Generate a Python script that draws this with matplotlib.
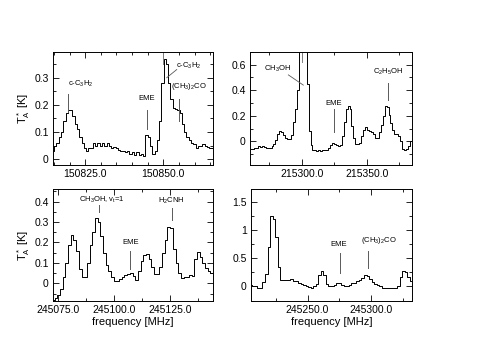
# ─────────────────────────────────────────
# IMPORTS
# ─────────────────────────────────────────
import matplotlib
matplotlib.use("Agg")
import matplotlib.pyplot as plt
import numpy as np
from matplotlib.ticker import MultipleLocator, FuncFormatter

plt.rcParams["font.family"] = ["Liberation Sans", "DejaVu Sans"]
plt.rcParams["mathtext.default"] = "regular"

# ─────────────────────────────────────────
# DATA
# ─────────────────────────────────────────
# panel 1: 150.8 GHz band, channel grid start / width
p1_f0, p1_df = 150814.7, 0.73
p1_ta = [0.03, 0.05, 0.06, 0.08, 0.10, 0.14, 0.17, 0.18, 0.18, 0.16,
         0.13, 0.11, 0.08, 0.06, 0.04, 0.03, 0.04, 0.04, 0.06, 0.05,
         0.06, 0.05, 0.06, 0.05, 0.06, 0.05, 0.04, 0.045, 0.04, 0.035,
         0.03, 0.03, 0.025, 0.03, 0.02, 0.025, 0.015, 0.025, 0.015, 0.02,
         0.01, 0.09, 0.08, 0.05, 0.02, 0.03, 0.07, 0.14, 0.28, 0.37,
         0.35, 0.28, 0.22, 0.19, 0.185, 0.18, 0.17, 0.13, 0.10, 0.08,
         0.07, 0.06, 0.055, 0.04, 0.05, 0.05, 0.055, 0.05, 0.045, 0.04,
         0.04]

# panel 2: 215.3 GHz band
p2_f0, p2_df = 215261.0, 1.5
p2_ta = [-0.06, -0.06, -0.05, -0.05, -0.04, -0.045, -0.04, -0.045, -0.05, -0.05,
         -0.05, -0.04, -0.02, 0.01, 0.06, 0.08, 0.07, 0.05, 0.03, 0.02,
         0.02, 0.05, 0.15, 0.25, 0.40, 0.75, 1.3, 1.6, 1.2, 0.45,
         0.08, -0.03, -0.07, -0.07, -0.075, -0.07, -0.075, -0.07, -0.07, -0.065,
         -0.05, -0.03, -0.01, -0.02, -0.03, -0.04, -0.03, 0.04, 0.15, 0.25,
         0.28, 0.25, 0.12, 0.03, -0.02, -0.02, -0.01, 0.04, 0.09, 0.11,
         0.09, 0.08, 0.07, 0.06, 0.03, 0.03, 0.07, 0.13, 0.20, 0.28,
         0.27, 0.21, 0.14, 0.09, 0.06, 0.06, 0.04, 0.0, -0.06, -0.07,
         -0.06, -0.04, 0.0]

# panel 3: 245.1 GHz band
p3_f0, p3_df = 245072.75, 1.2
p3_ta = [-0.08, -0.07, -0.055, -0.025, 0.03, 0.10, 0.19, 0.235, 0.21, 0.16,
         0.07, 0.03, 0.03, 0.10, 0.19, 0.25, 0.32, 0.30, 0.23, 0.15,
         0.09, 0.06, 0.03, 0.013, 0.01, 0.02, 0.03, 0.04, 0.045, 0.05,
         0.035, 0.015, 0.06, 0.11, 0.14, 0.145, 0.12, 0.08, 0.045, 0.045,
         0.08, 0.15, 0.21, 0.275, 0.27, 0.17, 0.10, 0.05, 0.025, 0.03,
         0.03, 0.04, 0.035, 0.12, 0.155, 0.13, 0.10, 0.075, 0.06, 0.05]

# panel 4: 245.27 GHz band
p4_f0, p4_df = 245205.5, 2.0
p4_ta = [0.02, 0.01, 0.0, -0.02, -0.035, 0.08, 0.22, 0.70, 1.25, 1.20,
         0.88, 0.35, 0.12, 0.12, 0.11, 0.12, 0.13, 0.10, 0.09, 0.06,
         0.05, 0.02, 0.0, -0.01, -0.02, 0.0, 0.04, 0.20, 0.28, 0.21,
         0.04, 0.01, 0.015, 0.03, 0.07, 0.07, 0.03, 0.0, 0.01, 0.03,
         0.06, 0.07, 0.09, 0.12, 0.15, 0.20, 0.18, 0.13, 0.08, 0.04,
         0.02, 0.0, -0.02, -0.03, -0.03, -0.025, -0.02, -0.02, 0.01, 0.17,
         0.28, 0.25, 0.17, 0.10]

# line identifications: (label, text x, text y, mark x, mark y0, mark y1)
p1_lines = [("c-C$_3$H$_2$", 150823.4, 0.277, 150819.6, 0.175, 0.24),
            ("EME", 150844.7, 0.224, 150844.7, 0.11, 0.18),
            ("(CH$_3$)$_2$CO", 150858.1, 0.269, 150855.0, 0.14, 0.22)]
p2_lines = [("EME", 215324.3, 0.30, 215324.8, 0.07, 0.25),
            ("C$_2$H$_5$OH", 215366.6, 0.545, 215366.1, 0.32, 0.46)]
p3_lines = [("CH$_3$OH, v$_t$=1", 245094.3, 0.41, 245093.2, 0.35, 0.385),
            ("EME", 245107.4, 0.198, 245107.2, 0.073, 0.158),
            ("H$_2$CNH", 245125.6, 0.402, 245125.6, 0.31, 0.37)]
p4_lines = [("EME", 245274.3, 0.75, 245275.6, 0.235, 0.6),
            ("(CH$_3$)$_2$CO", 245306.5, 0.82, 245297.4, 0.32, 0.63)]


# ─────────────────────────────────────────
# HELPERS
# ─────────────────────────────────────────
def style_axis(ax, xlim, ylim, xmaj, xmin, ymaj, ymin):
    ax.set_xlim(*xlim)
    ax.set_ylim(*ylim)
    ax.xaxis.set_major_locator(MultipleLocator(xmaj))
    ax.xaxis.set_minor_locator(MultipleLocator(xmin))
    ax.yaxis.set_major_locator(MultipleLocator(ymaj))
    ax.yaxis.set_minor_locator(MultipleLocator(ymin))
    ax.xaxis.set_major_formatter(FuncFormatter(lambda v, p: f"{v:.1f}"))
    ax.yaxis.set_major_formatter(FuncFormatter(lambda v, p: f"{v:g}"))
    ax.tick_params(which="both", direction="in", top=True, right=True,
                   labelsize=7.5, width=0.6, pad=3)
    ax.tick_params(which="major", length=4)
    ax.tick_params(which="minor", length=2)
    for s in ax.spines.values():
        s.set_linewidth(0.7)


def draw_spectrum(ax, f0, df, ta, lines):
    freq = f0 + df * np.arange(len(ta))
    ax.step(freq, ta, where="mid", color="black", lw=0.7)
    for label, tx, ty, mx, y0, y1 in lines:
        ax.text(tx, ty, label, fontsize=5.5, ha="center", va="center")
        ax.plot([mx, mx], [y0, y1], color="0.35", lw=0.7)


# ─────────────────────────────────────────
# FIGURE
# ─────────────────────────────────────────
fig = plt.figure(figsize=(5.0, 3.53), dpi=100)
ax1 = fig.add_axes([0.106, 0.533, 0.320, 0.320])
ax2 = fig.add_axes([0.500, 0.533, 0.324, 0.320])
ax3 = fig.add_axes([0.106, 0.147, 0.320, 0.317])
ax4 = fig.add_axes([0.502, 0.147, 0.322, 0.317])

# top-left
draw_spectrum(ax1, p1_f0, p1_df, p1_ta, p1_lines)
ax1.text(150858.1, 0.345, "c-C$_3$H$_2$", fontsize=5.5, ha="center", va="center")
ax1.plot([150854.3, 150851.1], [0.33, 0.30], color="0.35", lw=0.6)
ax1.plot([150850.0, 150850.0], [0.35, 0.39], color="0.5", lw=0.7)
style_axis(ax1, (150814.7, 150865.9), (-0.021, 0.395), 25, 5, 0.1, 0.05)
ax1.set_ylabel("T$_A^*$ [K]", fontsize=8, labelpad=2)

# top-right
draw_spectrum(ax2, p2_f0, p2_df, p2_ta, p2_lines)
ax2.text(215281.2, 0.566, "CH$_3$OH", fontsize=5.5, ha="center", va="center")
ax2.plot([215289.7, 215301.2], [0.52, 0.44], color="0.35", lw=0.6)
ax2.plot([215300.0, 215300.0], [0.62, 0.70], color="0.5", lw=0.7)
style_axis(ax2, (215260.2, 215384.8), (-0.184, 0.70), 50, 25, 0.2, 0.1)

# bottom-left
draw_spectrum(ax3, p3_f0, p3_df, p3_ta, p3_lines)
style_axis(ax3, (245072.6, 245144.1), (-0.086, 0.46), 25, 12.5, 0.1, 0.05)
ax3.set_ylabel("T$_A^*$ [K]", fontsize=8, labelpad=2)
ax3.set_xlabel("frequency [MHz]", fontsize=8, labelpad=1)

# bottom-right
draw_spectrum(ax4, p4_f0, p4_df, p4_ta, p4_lines)
style_axis(ax4, (245205.5, 245332.3), (-0.26, 1.73), 50, 25, 0.5, 0.25)
ax4.set_xlabel("frequency [MHz]", fontsize=8, labelpad=1)

fig.savefig("out.png", dpi=100)
